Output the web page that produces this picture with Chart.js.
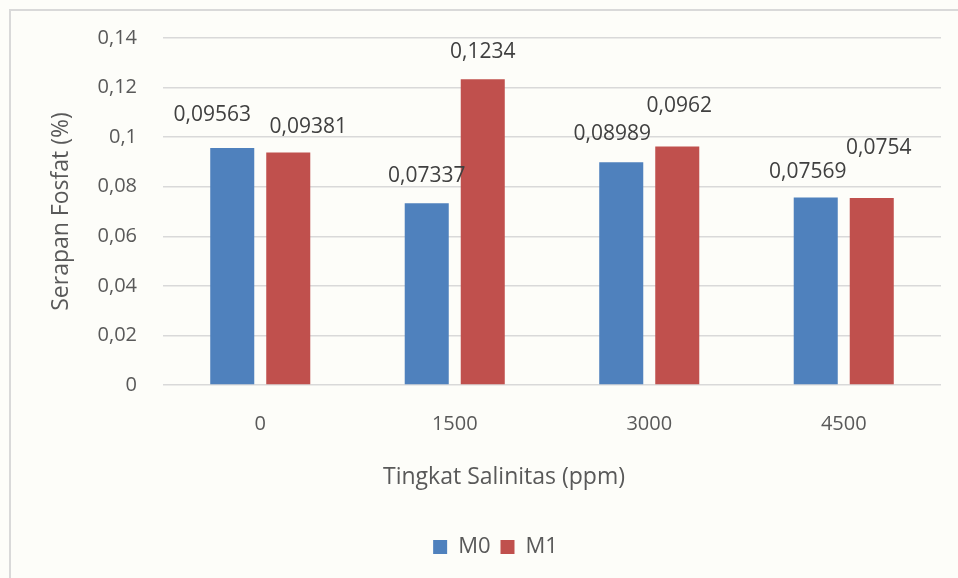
<!DOCTYPE html>
<html>
<head>
<meta charset="utf-8">
<script src="https://cdn.jsdelivr.net/npm/chart.js@4"></script>
<style>
  html, body { margin: 0; padding: 0; background: #fdfdf9; }
  #wrap { width: 958px; height: 578px; }
</style>
</head>
<body>
<div id="wrap"><canvas id="serapanChart"></canvas></div>
<script>
// Serapan fosfat per tingkat salinitas
const categories = ['0', '1500', '3000', '4500'];
const seriesM0 = [0.09563, 0.07337, 0.08989, 0.07569];
const seriesM1 = [0.09381, 0.1234, 0.0962, 0.0754];
const yTicks = [0, 0.02, 0.04, 0.06, 0.08, 0.1, 0.12, 0.14];
const xTitle = 'Tingkat Salinitas (ppm)';

// label nudges (px) relative to the top centre of each bar
const labelShift = [
  [[-20, -33], [0, -27], [-9, -28], [-8, -25]],
  [[20, -25], [0, -27], [2, -41], [7, -50]]
];

const fmt = v => String(v).replace('.', ',');

const frame = {
  id: 'frame',
  beforeDraw(chart) {
    const ctx = chart.ctx;
    ctx.save();
    ctx.fillStyle = '#fdfdf9';
    ctx.fillRect(0, 0, chart.width, chart.height);
    ctx.strokeStyle = '#d9d9d9';
    ctx.lineWidth = 2;
    ctx.strokeRect(10, 10, chart.width + 20, chart.height + 20);
    ctx.restore();
  }
};

// x axis caption, centred a little left of the plot centre like the original
const axisCaption = {
  id: 'axisCaption',
  afterDraw(chart) {
    const { ctx, chartArea } = chart;
    ctx.save();
    ctx.font = '23px "Open Sans"';
    ctx.fillStyle = '#595959';
    ctx.textAlign = 'center';
    ctx.textBaseline = 'middle';
    ctx.fillText(xTitle, (chartArea.left + chartArea.right) / 2 - 48, chartArea.bottom + 92);
    ctx.restore();
  }
};

const valueLabels = {
  id: 'valueLabels',
  afterDatasetsDraw(chart) {
    const ctx = chart.ctx;
    ctx.save();
    ctx.font = '21px "Open Sans"';
    ctx.fillStyle = '#404040';
    ctx.textAlign = 'center';
    ctx.textBaseline = 'middle';
    chart.data.datasets.forEach((ds, di) => {
      chart.getDatasetMeta(di).data.forEach((bar, i) => {
        const [dx, dy] = labelShift[di][i];
        ctx.fillText(fmt(ds.data[i]), bar.x + dx, bar.y + dy);
      });
    });
    ctx.restore();
  }
};

new Chart(document.getElementById('serapanChart'), {
  type: 'bar',
  data: {
    labels: categories,
    datasets: [
      { label: 'M0', data: seriesM0, backgroundColor: '#4f81bd' },
      { label: 'M1', data: seriesM1, backgroundColor: '#c0504d' }
    ]
  },
  options: {
    responsive: true,
    maintainAspectRatio: false,
    animation: false,
    layout: { padding: { top: 38, right: 17, bottom: 10, left: 50 } },
    datasets: {
      bar: { categoryPercentage: 0.576, barPercentage: 0.786 }
    },
    plugins: {
      legend: {
        position: 'bottom',
        labels: {
          boxWidth: 14,
          boxHeight: 14,
          padding: 10,
          color: '#595959',
          font: { family: '"Open Sans"', size: 22 }
        }
      },
      tooltip: { enabled: false }
    },
    scales: {
      x: {
        afterFit: scale => { scale.height = 141; },
        grid: { display: false, drawTicks: false },
        border: { display: false },
        ticks: {
          padding: 27,
          color: '#595959',
          font: { family: '"Open Sans"', size: 20 }
        }
      },
      y: {
        min: 0,
        max: 0.14,
        afterFit: scale => { scale.width = 113; },
        afterBuildTicks: scale => { scale.ticks = yTicks.map(v => ({ value: v })); },
        grid: { color: '#d9d9d9', lineWidth: 1.5, drawTicks: false },
        border: { display: false },
        ticks: {
          padding: 26,
          color: '#595959',
          font: { family: '"Open Sans"', size: 20 },
          callback: v => fmt(v)
        },
        title: {
          display: true,
          text: 'Serapan Fosfat (%)',
          color: '#595959',
          font: { family: '"Open Sans"', size: 23, lineHeight: 1 },
          padding: { top: 0, bottom: 0 }
        }
      }
    }
  },
  plugins: [frame, axisCaption, valueLabels]
});
</script>
</body>
</html>
